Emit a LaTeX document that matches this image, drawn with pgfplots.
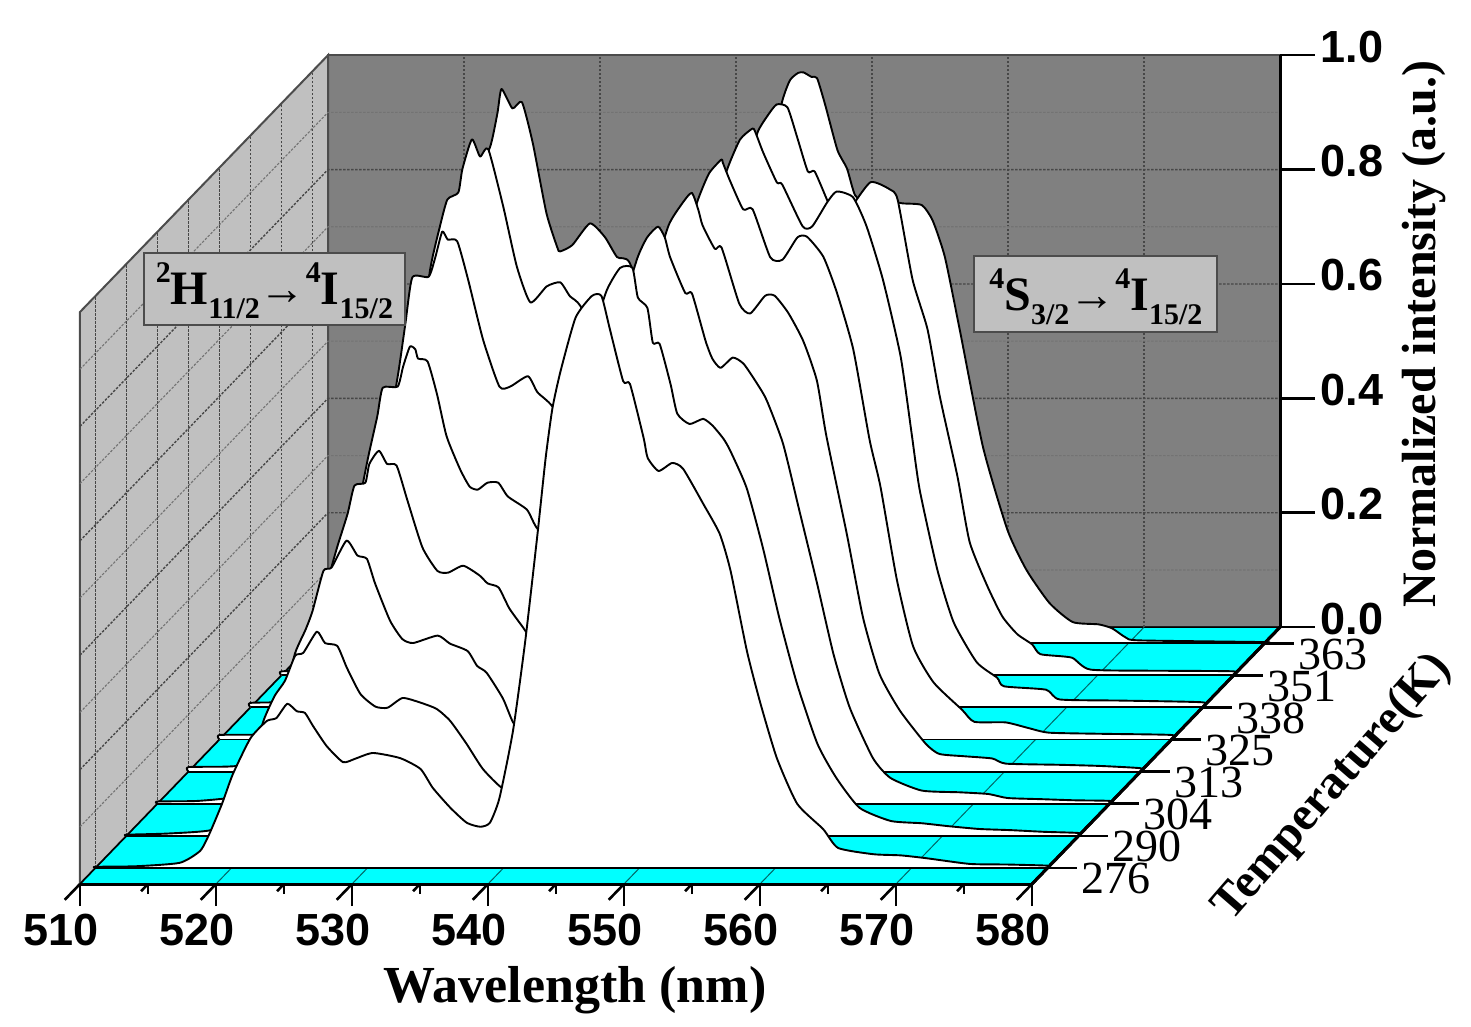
\documentclass[border=0pt]{standalone}
\usepackage{fontspec}
\setmainfont{Liberation Serif}
\newfontfamily\arialf{Liberation Sans}
\usepackage{pgfplots}
\usepackage{pgfplotstable}
\pgfplotsset{compat=1.18}
\definecolor{wallback}{HTML}{808080}
\definecolor{wallleft}{HTML}{C0C0C0}
\definecolor{floorc}{HTML}{00FFFF}
\newcommand\sz[1]{\fontsize{#1}{#1}\selectfont}
\newcommand\up[1]{\raisebox{22pt}[0pt][0pt]{\sz{30}\bfseries #1}}
\newcommand\dn[1]{\raisebox{-14pt}[0pt][0pt]{\sz{30}\bfseries #1}}
\newcommand\ar{{\mdseries\sz{46}→}}
\pgfplotstableread{
w i
510 0
510 .002
513 .004
516.2 .010
517.7 .036
518.4 .075
519.3 .139
520.1 .203
520.9 .245
521.65 .271
522.4 .315
523.0 .320
524.0 .357
524.6 .337
525.5 .332
526.2 .294
527.2 .248
528.3 .226
529.2 .224
530.3 .241
531.6 .233
532.8 .222
533.8 .201
535.0 .161
536.2 .117
537.6 .084
538.6 .085
539.7 .13
540.7 .25
541.6 .40
542.5 .585
543.6 .804
544.2 .869
545.3 .953
546.3 .993
547.2 .993
547.6 .941
548.3 .923
548.7 .862
549.2 .860
550.0 .790
550.5 .738
551.4 .720
552.4 .729
553.1 .717
553.9 .694
554.4 .673
555.6 .608
556.8 .503
558.0 .381
559.3 .266
560.8 .161
562.2 .101
563.9 .049
566.2 .026
568.5 .022
570.4 .017
572.7 .012
575 .010
577.5 .007
580 .005
580 0
}\tB
\pgfplotstableread{
w i
510 0
510 .002
513 .003
516.2 .009
517.7 .030
518.4 .061
519.3 .112
520.1 .164
521.4 .227
522.6 .257
523.3 .262
524.1 .287
524.8 .274
525.4 .271
526.0 .248
527.0 .213
528.2 .185
529.1 .191
530.4 .201
532.4 .192
533.9 .173
534.8 .140
536.1 .105
537.3 .079
538.3 .072
539.0 .079
539.7 .122
540.7 .240
541.6 .397
542.5 .584
543.1 .717
543.6 .804
544.2 .869
545.3 .962
546.5 1.0
547.2 1.0
547.8 .944
548.8 .851
549.3 .846
550.3 .752
550.6 .717
551.4 .694
552.4 .708
553.2 .698
554.7 .636
555.9 .584
556.7 .519
557.9 .379
558.9 .287
560.1 .192
561.6 .112
563.5 .068
564.6 .035
567.2 .024
569.2 .022
571.1 .017
574.3 .007
577 .006
580 .004
580 0
}\tA
\pgfplotstableread{
w i
510 0
510 .004
513 .005
516.2 .014
517.7 .046
518.4 .097
519.3 .179
520.1 .262
520.9 .305
521.4 .337
522.2 .407
522.8 .413
523.9 .460
524.7 .434
525.4 .428
526.0 .385
527.1 .320
528.0 .288
528.8 .281
530.6 .294
531.5 .280
532.8 .267
533.5 .241
534.2 .229
535.4 .184
536.2 .140
537.5 .11
538.6 .11
539.7 .15
540.7 .26
541.6 .40
542.5 .585
543.6 .804
544.2 .869
545.3 .955
546.0 .99
546.8 1.009
547.3 .990
547.7 .955
548.8 .893
549.3 .892
550.3 .809
550.8 .778
551.4 .762
552.3 .780
553.1 .769
554.1 .734
554.8 .705
556.0 .629
557.2 .512
558.5 .385
559.7 .262
560.9 .168
562.6 .080
563.9 .045
566.2 .023
569 .020
571.1 .017
572.5 .010
575 .008
577.5 .006
580 .005
580 0
}\tC
\pgfplotstableread{
w i
510 0
510 .008
513 .009
516.2 .017
517.7 .056
518.4 .118
519.3 .219
520.1 .32
520.9 .39
521.7 .451
522.2 .5
523.0 .505
523.3 .538
524.0 .561
524.6 .538
525.3 .535
526.1 .474
527.2 .392
528.3 .351
529.1 .348
530.2 .360
531.4 .343
532.0 .329
532.8 .322
533.6 .285
534.6 .252
535.5 .22
537 .17
538.6 .15
539.7 .18
540.7 .28
541.6 .41
542.5 .59
543.6 .804
544.2 .869
545.3 .955
546.2 .99
547.0 1.012
547.5 .981
547.8 .955
548.7 .914
549.2 .916
550.5 .818
551.3 .801
552.4 .832
553.1 .832
554.1 .802
555.2 .753
556.2 .684
556.9 .587
558.4 .416
559.6 .269
560.8 .171
562.3 .107
564.2 .049
565.2 .031
567 .027
569.1 .023
570.1 .014
574 .012
577 .010
580 .006
580 0
}\tD
\pgfplotstableread{
w i
510 0
510 .008
513 .009
516.2 .021
517.7 .069
518.4 .144
519.3 .268
520.1 .392
520.9 .49
521.6 .565
522.0 .615
523.1 .617
523.5 .652
524.0 .687
524.4 .682
524.6 .666
525.3 .661
526.0 .603
526.7 .530
527.7 .472
528.4 .442
529.0 .437
529.7 .449
530.5 .449
531.2 .425
532.6 .402
533.3 .371
535 .32
537 .24
538.6 .21
539.7 .24
540.7 .31
541.6 .43
542.5 .6
543.6 .804
544.2 .869
545.2 .945
546.0 .99
546.9 1.014
547.0 1.009
547.5 .979
548.5 .927
549.2 .927
550.5 .843
551.4 .839
552.5 .878
553.2 .879
554.4 .844
555.4 .781
556.6 .682
557.8 .524
558.6 .442
559.8 .280
561.0 .163
562.5 .100
564.6 .052
565.5 .031
567.8 .030
569.5 .020
571 .012
575 .010
580 .008
580 0
}\tE
\pgfplotstableread{
w i
510 0
510 .008
513 .01
516.2 .025
517.7 .083
518.4 .175
519.3 .324
520.1 .474
520.9 .59
521.4 .673
521.9 .752
523.1 .753
523.6 .788
524.1 .832
524.5 .818
525.2 .815
526.0 .748
527.1 .643
528.3 .561
529.1 .561
530.4 .579
531.1 .551
532.2 .526
534 .45
536 .34
538.6 .27
539.7 .3
540.7 .36
541.6 .47
542.5 .62
543.6 .804
544.2 .875
545.1 .944
546.0 .993
546.9 1.012
547.1 1.007
547.7 .970
548.7 .918
549.1 .914
550.6 .841
551.3 .841
552.4 .883
553.1 .902
554.3 .892
555.3 .841
556.5 .748
557.8 .614
558.6 .481
559.2 .381
560.5 .241
561.7 .149
563.4 .079
564.9 .052
565.4 .037
568.5 .031
569.5 .014
574 .012
580 .009
580 0
}\tF
\pgfplotstableread{
w i
510 0
510 .007
513 .009
516.2 .028
517.7 .094
518.4 .197
519.3 .365
520.1 .534
520.9 .705
521.65 .785
522.2 .832
523.0 .844
523.3 .885
524.0 .937
524.6 .907
525.2 .920
526.3 .820
527.3 .715
528.3 .652
529.5 .680
530.5 .687
531.2 .663
532.0 .645
534 .55
536 .42
538.6 .33
539.7 .35
540.7 .41
541.6 .5
542.5 .64
543.6 .81
544.2 .88
545.0 .949
545.7 .977
546.4 .998
547.2 .993
547.9 .942
548.7 .881
549.2 .881
550.1 .832
550.9 .788
551.8 .815
553.3 .862
554.7 .850
555.3 .832
556.4 .692
557.5 .605
558.4 .488
559.7 .348
560.6 .233
561.9 .156
563.0 .103
564.1 .072
565.2 .054
565.8 .037
568.1 .031
569.5 .010
575 .008
580 .007
580 0
}\tG
\pgfplotstableread{
w i
510 0
510 .005
513 .007
516.2 .029
517.7 .097
518.4 .203
519.3 .378
520.1 .552
520.9 .70
521.7 .80
523.05 .867
523.6 .927
523.9 .969
524.7 .935
525.4 .946
526.2 .874
527.2 .752
528.0 .692
528.2 .685
529.1 .696
530.4 .734
531.5 .710
532.4 .675
533.3 .666
535 .56
537 .43
538.6 .38
539.7 .39
540.7 .44
541.6 .52
542.5 .66
543.6 .83
544.5 .944
545.1 .984
545.7 .997
546.1 .998
546.7 .990
547.1 .988
547.7 .941
548.6 .862
549.3 .830
549.9 .783
550.9 .766
552.1 .774
553.4 .769
554.8 .766
555.6 .739
556.5 .675
557.6 .547
559.3 .343
561.1 .198
562.5 .128
564.2 .070
565.9 .037
567.8 .033
568.8 .026
569.8 .010
570.8 .005
580 .002
580 0
}\tH
\begin{document}
\begin{tikzpicture}[
  cv/.style={draw=black,fill=white,line width=1.9pt,line join=round,no marks,solid,smooth,tension=0.35},
  bl/.style={draw=black,line width=1.9pt,no marks,solid},
  gmaj/.style={draw=black!72,line width=1.4pt,dash pattern=on 2.5pt off 1.5pt,no marks},
  gmin/.style={draw=black!55,line width=1.1pt,dash pattern=on 2.5pt off 1.5pt,no marks},
  gfloor/.style={draw=teal!80!black,line width=1pt,no marks,solid},
  tk/.style={draw=black,line width=2.6pt,no marks,solid}]
\useasboundingbox (-80pt,-143pt) rectangle (1391pt,884pt);
\begin{axis}[name=ax,at={(0,0)},anchor=south west,
  x={(13.6pt,0pt)},y={(31pt,32.1pt)},z={(0pt,572pt)},
  xmin=510,xmax=580,ymin=-0.5,ymax=7.5,zmin=0,zmax=1,
  clip=false,axis on top=true,
  axis x line*=bottom,axis y line*=none,axis z line*=right,
  axis line style={line width=3pt,-},
  tick style={line width=2.6pt,black},
  tick align=outside,
  major tick length=22pt,minor tick length=10pt,
  xtick={510,520,...,580},minor x tick num=1,
  ytick=\empty,
  ztick={0,0.2,...,1.0},ztick style={draw=none},
  /pgf/number format/assume math mode=true,
  /pgf/number format/fixed,/pgf/number format/fixed zerofill,/pgf/number format/precision=1,
  xticklabel style={font=\arialf\sz{45}\bfseries,/pgf/number format/1000 sep={},/pgf/number format/precision=0,xshift=4pt,yshift=-11pt},
  zticklabel style={font=\arialf\sz{45}\bfseries,xshift=22pt,yshift=-22pt},
  xlabel={},ylabel={},zlabel={}]
% walls
\addplot3[draw=black!70,fill=wallback,line width=1.6pt,no marks] coordinates {(510,7.5,0)(580,7.5,0)(580,7.5,1)(510,7.5,1)(510,7.5,0)};
\addplot3[draw=black!70,fill=wallleft,line width=2pt,no marks] coordinates {(510,-0.5,0)(510,7.5,0)(510,7.5,1)(510,-0.5,1)(510,-0.5,0)};
\addplot3[draw=black,fill=floorc,line width=1.6pt,no marks] coordinates {(510,-0.5,0)(580,-0.5,0)(580,7.5,0)(510,7.5,0)(510,-0.5,0)};
% grid
\pgfplotsinvokeforeach{520,530,540,550,560,570}{
  \addplot3[gmaj] coordinates {(#1,7.5,0)(#1,7.5,1)};
  \addplot3[gfloor] coordinates {(#1,-0.5,0)(#1,7.5,0)};
}
\pgfplotsinvokeforeach{0.2,0.4,0.6,0.8}{
  \addplot3[gmaj] coordinates {(510,-0.5,#1)(510,7.5,#1)(580,7.5,#1)};
}
\pgfplotsinvokeforeach{0.1,0.3,0.5,0.7,0.9}{
  \addplot3[gmin] coordinates {(510,-0.5,#1)(510,7.5,#1)(580,7.5,#1)};
}
\pgfplotsinvokeforeach{0,1,2,3,4,5,6,7}{
  \addplot3[gmaj] coordinates {(510,#1,0)(510,#1,1)};
}
% series, back to front
\addplot3[cv] table[x=w,y expr=7,z=i] {\tH};
\addplot3[bl] coordinates {(510,7,0)(580,7,0)};
\addplot3[cv] table[x=w,y expr=6,z=i] {\tG};
\addplot3[bl] coordinates {(510,6,0)(580,6,0)};
\addplot3[cv] table[x=w,y expr=5,z=i] {\tF};
\addplot3[bl] coordinates {(510,5,0)(580,5,0)};
\addplot3[cv] table[x=w,y expr=4,z=i] {\tE};
\addplot3[bl] coordinates {(510,4,0)(580,4,0)};
\addplot3[cv] table[x=w,y expr=3,z=i] {\tD};
\addplot3[bl] coordinates {(510,3,0)(580,3,0)};
\addplot3[cv] table[x=w,y expr=2,z=i] {\tC};
\addplot3[bl] coordinates {(510,2,0)(580,2,0)};
\addplot3[cv] table[x=w,y expr=1,z=i] {\tB};
\addplot3[bl] coordinates {(510,1,0)(580,1,0)};
\addplot3[cv] table[x=w,y expr=0,z=i] {\tA};
\addplot3[bl] coordinates {(510,0,0)(580,0,0)};
% axes and ticks on the right
\addplot3[draw=black,line width=3pt,no marks,solid] coordinates {(580,-0.5,0)(580,7.5,0)};
\pgfplotsinvokeforeach{0,0.2,0.4,0.6,0.8,1}{
  \addplot3[tk] coordinates {(580,7.5,#1)(582.57,7.5,#1)};
}
\pgfplotsinvokeforeach{0,1,2,3,4,5,6,7}{
  \addplot3[tk] coordinates {(580,#1,0)(582.2,#1,0)};
}
\node[font=\sz{46},anchor=center] at (axis cs:585.05,0,-0.0192) {276};
\node[font=\sz{46},anchor=center] at (axis cs:585.05,1,-0.0192) {290};
\node[font=\sz{46},anchor=center] at (axis cs:585.05,2,-0.0192) {304};
\node[font=\sz{46},anchor=center] at (axis cs:585.05,3,-0.0192) {313};
\node[font=\sz{46},anchor=center] at (axis cs:585.05,4,-0.0192) {325};
\node[font=\sz{46},anchor=center] at (axis cs:585.05,5,-0.0192) {338};
\node[font=\sz{46},anchor=center] at (axis cs:585.05,6,-0.0192) {351};
\node[font=\sz{46},anchor=center] at (axis cs:585.05,7,-0.0192) {363};
% annotations
\node[draw=black!70,fill=wallleft,line width=2pt,minimum width=261pt,minimum height=72pt,inner sep=0pt,anchor=center,font=\sz{48}\bfseries]
  at (axis cs:524.3,-0.5,1.040) {\up{2}H\dn{11/2}\ar\up{4}I\dn{15/2}};
\node[draw=black!70,fill=wallleft,line width=2pt,minimum width=243pt,minimum height=76pt,inner sep=0pt,anchor=center,font=\sz{48}\bfseries]
  at (axis cs:584.7,-0.5,1.0306) {\up{4}S\dn{3/2}\ar\up{4}I\dn{15/2}};
\node[font=\sz{52}\bfseries,anchor=center] at (axis cs:546.4,-0.5,-0.1853) {Wavelength (nm)};
\node[font=\sz{48}\bfseries,anchor=center,rotate=90] at (axis cs:590.6,7.5,0.513) {Normalized intensity (a.u.)};
\node[font=\sz{48}\bfseries,anchor=center,rotate=49] at (axis cs:602.1,-0.5,0.168) {Temperature(K)};
\end{axis}
\end{tikzpicture}
\end{document}
